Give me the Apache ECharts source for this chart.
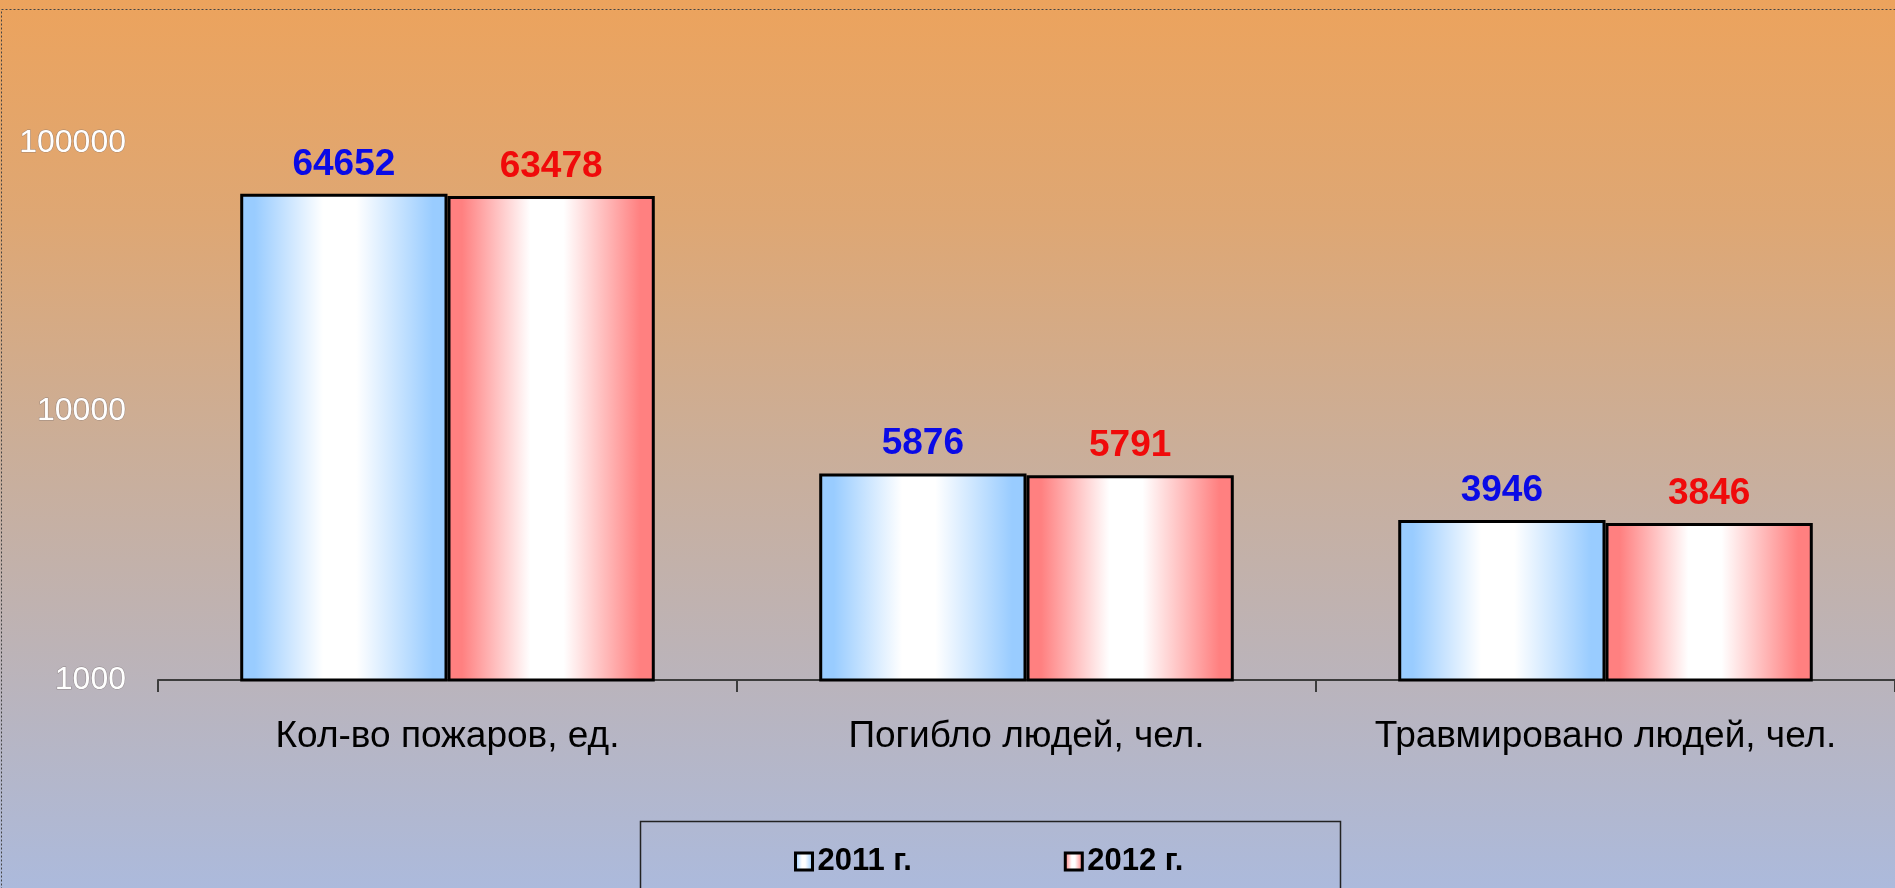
<!DOCTYPE html>
<html>
<head>
<meta charset="utf-8">
<script src="https://cdn.jsdelivr.net/npm/echarts@6/dist/echarts.min.js"></script>
<style>
  html, body { margin: 0; padding: 0; overflow: hidden; }
  #chart { width: 1895px; height: 888px; }
</style>
</head>
<body>
<div id="chart"></div>
<script>
const categories = ['Кол-во пожаров, ед.', 'Погибло людей, чел.', 'Травмировано людей, чел.'];
const seriesNames = ['2011 г.', '2012 г.'];
const values2011 = [64652, 5876, 3946];
const values2012 = [63478, 5791, 3846];

const FONT = '"Liberation Sans", Arial, sans-serif';

// horizontal "cylinder" shading: coloured edges, white middle
function barFill(edge) {
  return new echarts.graphic.LinearGradient(0, 0, 1, 0, [
    { offset: 0, color: edge },
    { offset: 0.07, color: edge },
    { offset: 0.4, color: '#ffffff' },
    { offset: 0.56, color: '#ffffff' },
    { offset: 0.93, color: edge },
    { offset: 1, color: edge }
  ]);
}

function makeBar(name, data, edge, labelColor) {
  return {
    name: name,
    type: 'bar',
    data: data,
    barGap: '0%',
    barCategoryGap: '28.4%',
    itemStyle: {
      color: barFill(edge),
      borderColor: '#000',
      borderWidth: 3
    },
    label: {
      show: true,
      position: 'top',
      distance: 11,
      color: labelColor,
      fontFamily: FONT,
      fontWeight: 'bold',
      fontSize: 37
    }
  };
}

const chart = echarts.init(document.getElementById('chart'));
chart.setOption({
  animation: false,
  backgroundColor: new echarts.graphic.LinearGradient(0, 0, 0, 1, [
    { offset: 0, color: '#eca35d' },
    { offset: 0.25, color: '#dea774' },
    { offset: 0.5, color: '#cbae98' },
    { offset: 0.77, color: '#bab4bc' },
    { offset: 1, color: '#acbadc' }
  ]),
  graphic: [
    {
      type: 'rect',
      shape: { x: 1.5, y: 9.5, width: 1900, height: 900 },
      style: { fill: 'none', stroke: '#444', lineWidth: 1, lineDash: [2, 2] },
      silent: true
    },
    {
      type: 'rect',
      shape: { x: 640.5, y: 821.5, width: 700, height: 100 },
      style: { fill: 'none', stroke: '#222', lineWidth: 1.5 },
      silent: true
    }
  ],
  grid: { left: 158, right: 0, top: 143, bottom: 208 },
  legend: {
    data: seriesNames,
    left: 789,
    top: 841,
    itemGap: 152,
    itemWidth: 17,
    itemHeight: 17,
    icon: 'rect',
    itemStyle: { borderColor: '#000', borderWidth: 3 },
    textStyle: { fontFamily: FONT, fontWeight: 'bold', fontSize: 31, color: '#000' }
  },
  xAxis: {
    type: 'category',
    data: categories,
    axisLine: { lineStyle: { color: '#3c3c3c', width: 2 } },
    axisTick: { show: true, length: 12, lineStyle: { color: '#3c3c3c', width: 2 } },
    axisLabel: { margin: 38, color: '#000', fontFamily: FONT, fontSize: 37, interval: 0 }
  },
  yAxis: {
    type: 'log',
    logBase: 10,
    min: 1000,
    max: 100000,
    axisLine: { show: false },
    axisTick: { show: false },
    splitLine: { show: false },
    axisLabel: {
      margin: 32,
      color: '#ffffff',
      fontFamily: FONT,
      fontSize: 32,
      formatter: (value) => String(Math.round(value)),
      textBorderColor: 'rgba(120,110,110,0.6)',
      textBorderWidth: 1
    }
  },
  series: [
    makeBar(seriesNames[0], values2011, '#99ccff', '#0a0ae6'),
    makeBar(seriesNames[1], values2012, '#ff8080', '#f00a0a')
  ]
});
</script>
</body>
</html>
